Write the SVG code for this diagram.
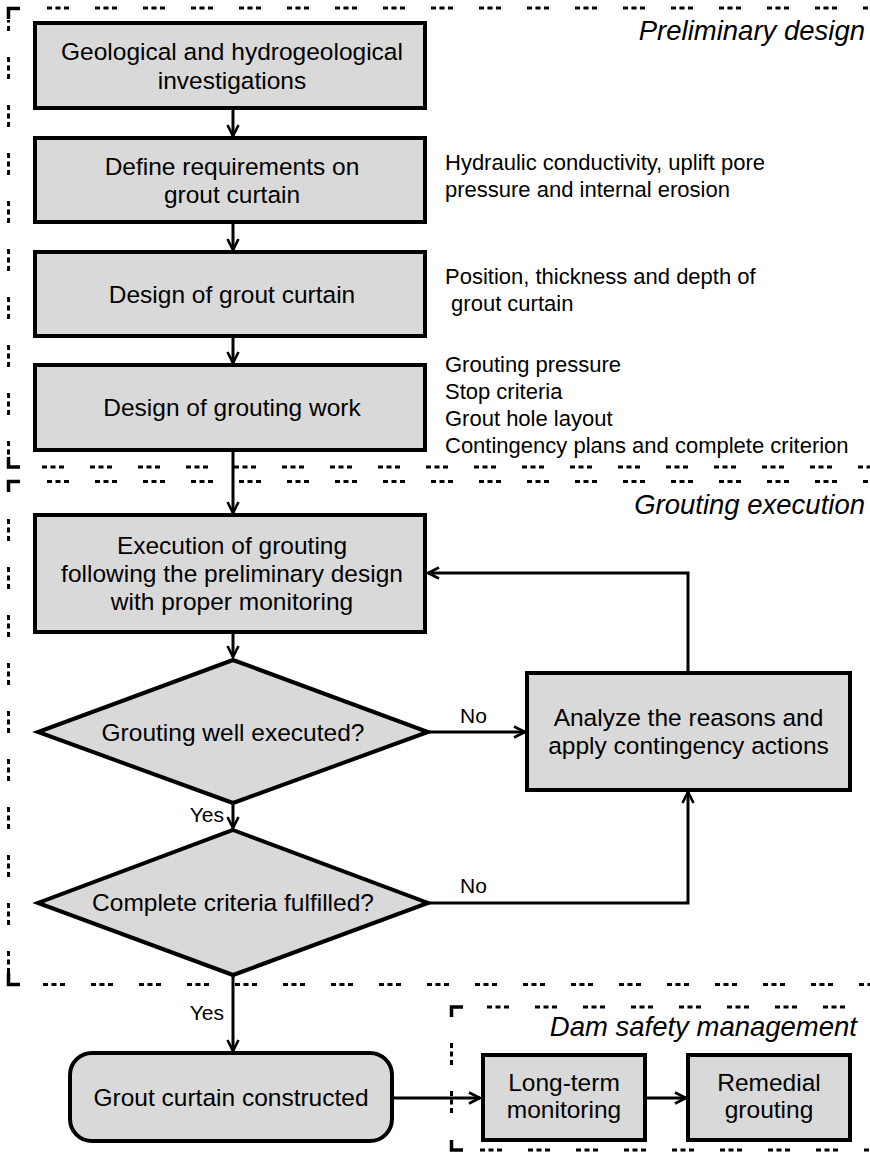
<svg xmlns="http://www.w3.org/2000/svg" width="870" height="1157" viewBox="0 0 870 1157">
<style>
.box{fill:#d9d9d9;stroke:#000;stroke-width:4;stroke-linejoin:miter}
.t{font-family:"Liberation Sans",Arial,sans-serif;font-size:24.5px;fill:#000;text-anchor:middle}
.n{font-family:"Liberation Sans",Arial,sans-serif;font-size:22px;fill:#000}
.l{font-family:"Liberation Sans",Arial,sans-serif;font-size:21px;fill:#000}
.h{font-family:"Liberation Sans",Arial,sans-serif;font-size:27.5px;font-style:italic;fill:#000;text-anchor:end}
.c{fill:none;stroke:#000;stroke-width:3}
.d{fill:none;stroke:#000;stroke-width:3;stroke-dasharray:5 3.5 5 3.5 5 26}
.k{fill:none;stroke:#000;stroke-width:3.5;stroke-linejoin:miter}
</style>
<defs>
<marker id="arr" viewBox="-2 -2 18 18" markerWidth="18" markerHeight="18" refX="12" refY="6" orient="auto" markerUnits="userSpaceOnUse">
<path d="M1,0.5 L12,6 L1,11.5" fill="none" stroke="#000" stroke-width="2.6"/>
</marker>
</defs>

<g id="frame-preliminary">
<path class="k" d="M8.5,19 V8.5 H20"/>
<line class="d" x1="21" y1="8" x2="872" y2="8" style="stroke-dashoffset:22"/>
<line class="d" x1="8.5" y1="20" x2="8.5" y2="457" style="stroke-dashoffset:11"/>
<path class="k" d="M8.5,457 V467 H20"/>
<line class="d" x1="21" y1="467" x2="872" y2="467" style="stroke-dashoffset:27"/>
<text class="h" x="865" y="40">Preliminary design</text>
</g>

<g id="frame-execution">
<path class="k" d="M8.5,492 V481.5 H20"/>
<line class="d" x1="21" y1="481.5" x2="872" y2="481.5" style="stroke-dashoffset:22"/>
<line class="d" x1="8.5" y1="504" x2="8.5" y2="973" style="stroke-dashoffset:33"/>
<path class="k" d="M8.5,973 V984.5 H20"/>
<line class="d" x1="21" y1="984.5" x2="872" y2="984.5" style="stroke-dashoffset:26"/>
<text class="h" x="865" y="514">Grouting execution</text>
</g>

<g id="frame-dam">
<path class="k" d="M451.5,1017 V1007 H463"/>
<line class="d" x1="465" y1="1007" x2="872" y2="1007" style="stroke-dashoffset:26"/>
<line class="d" x1="451.5" y1="1019" x2="451.5" y2="1139" style="stroke-dashoffset:24"/>
<path class="k" d="M451.5,1140 V1150 H463"/>
<line class="d" x1="465" y1="1150" x2="872" y2="1150" style="stroke-dashoffset:33"/>
<text class="h" x="857" y="1036">Dam safety management</text>
</g>

<g id="connectors">
<line class="c" x1="233" y1="108" x2="233" y2="136" marker-end="url(#arr)"/>
<line class="c" x1="233" y1="222" x2="233" y2="250" marker-end="url(#arr)"/>
<line class="c" x1="233" y1="336" x2="233" y2="363" marker-end="url(#arr)"/>
<line class="c" x1="233" y1="450" x2="233" y2="513" marker-end="url(#arr)"/>
<line class="c" x1="233" y1="632" x2="233" y2="657" marker-end="url(#arr)"/>
<line class="c" x1="233" y1="803" x2="233" y2="828" marker-end="url(#arr)"/>
<line class="c" x1="233" y1="975" x2="233" y2="1051" marker-end="url(#arr)"/>
<line class="c" x1="428" y1="732" x2="525" y2="732" marker-end="url(#arr)"/>
<polyline class="c" points="428,903 688,903 688,792" marker-end="url(#arr)"/>
<polyline class="c" points="688,673 688,573 428,573" marker-end="url(#arr)"/>
<line class="c" x1="392" y1="1098" x2="480" y2="1098" marker-end="url(#arr)"/>
<line class="c" x1="645" y1="1098" x2="686" y2="1098" marker-end="url(#arr)"/>
<text class="l" x="460" y="723">No</text>
<text class="l" x="460" y="893">No</text>
<text class="l" x="224" y="822" text-anchor="end">Yes</text>
<text class="l" x="224" y="1020" text-anchor="end">Yes</text>
</g>

<g id="n1">
<rect class="box" x="35" y="23" width="390" height="85"/>
<text class="t" x="232" y="60">Geological and hydrogeological</text>
<text class="t" x="232" y="88.5">investigations</text>
</g>
<g id="n2">
<rect class="box" x="35" y="138" width="390" height="84"/>
<text class="t" x="232" y="174.5">Define requirements on</text>
<text class="t" x="232" y="203">grout curtain</text>
<text class="n" x="445" y="170">Hydraulic conductivity, uplift pore</text>
<text class="n" x="445" y="197">pressure and internal erosion</text>
</g>
<g id="n3">
<rect class="box" x="35" y="252" width="390" height="84"/>
<text class="t" x="232" y="302.6">Design of grout curtain</text>
<text class="n" x="445" y="284">Position, thickness and depth of</text>
<text class="n" x="445" y="311" xml:space="preserve"> grout curtain</text>
</g>
<g id="n4">
<rect class="box" x="35" y="365" width="390" height="85"/>
<text class="t" x="232" y="416">Design of grouting work</text>
<text class="n" x="445" y="372">Grouting pressure</text>
<text class="n" x="445" y="399">Stop criteria</text>
<text class="n" x="445" y="426">Grout hole layout</text>
<text class="n" x="445" y="453">Contingency plans and complete criterion</text>
</g>
<g id="n5">
<rect class="box" x="35" y="515" width="390" height="117"/>
<text class="t" x="232" y="554">Execution of grouting</text>
<text class="t" x="232" y="582">following the preliminary design</text>
<text class="t" x="232" y="610">with proper monitoring</text>
</g>
<g id="n6">
<polygon class="box" points="233,660 428,732 233,803 38,732"/>
<text class="t" x="233" y="740.6">Grouting well executed?</text>
</g>
<g id="n7">
<rect class="box" x="527" y="673" width="323" height="117"/>
<text class="t" x="688.5" y="725.5">Analyze the reasons and</text>
<text class="t" x="688.5" y="754">apply contingency actions</text>
</g>
<g id="n8">
<polygon class="box" points="233,830 428,903 233,975 38,903"/>
<text class="t" x="233" y="911">Complete criteria fulfilled?</text>
</g>
<g id="n9">
<rect class="box" x="70" y="1053" width="322" height="88" rx="22" ry="22"/>
<text class="t" x="231" y="1105.6">Grout curtain constructed</text>
</g>
<g id="n10">
<rect class="box" x="483" y="1055" width="162" height="85"/>
<text class="t" x="564" y="1091">Long-term</text>
<text class="t" x="564" y="1118">monitoring</text>
</g>
<g id="n11">
<rect class="box" x="688" y="1055" width="162" height="85"/>
<text class="t" x="769" y="1091">Remedial</text>
<text class="t" x="769" y="1118">grouting</text>
</g>
</svg>
